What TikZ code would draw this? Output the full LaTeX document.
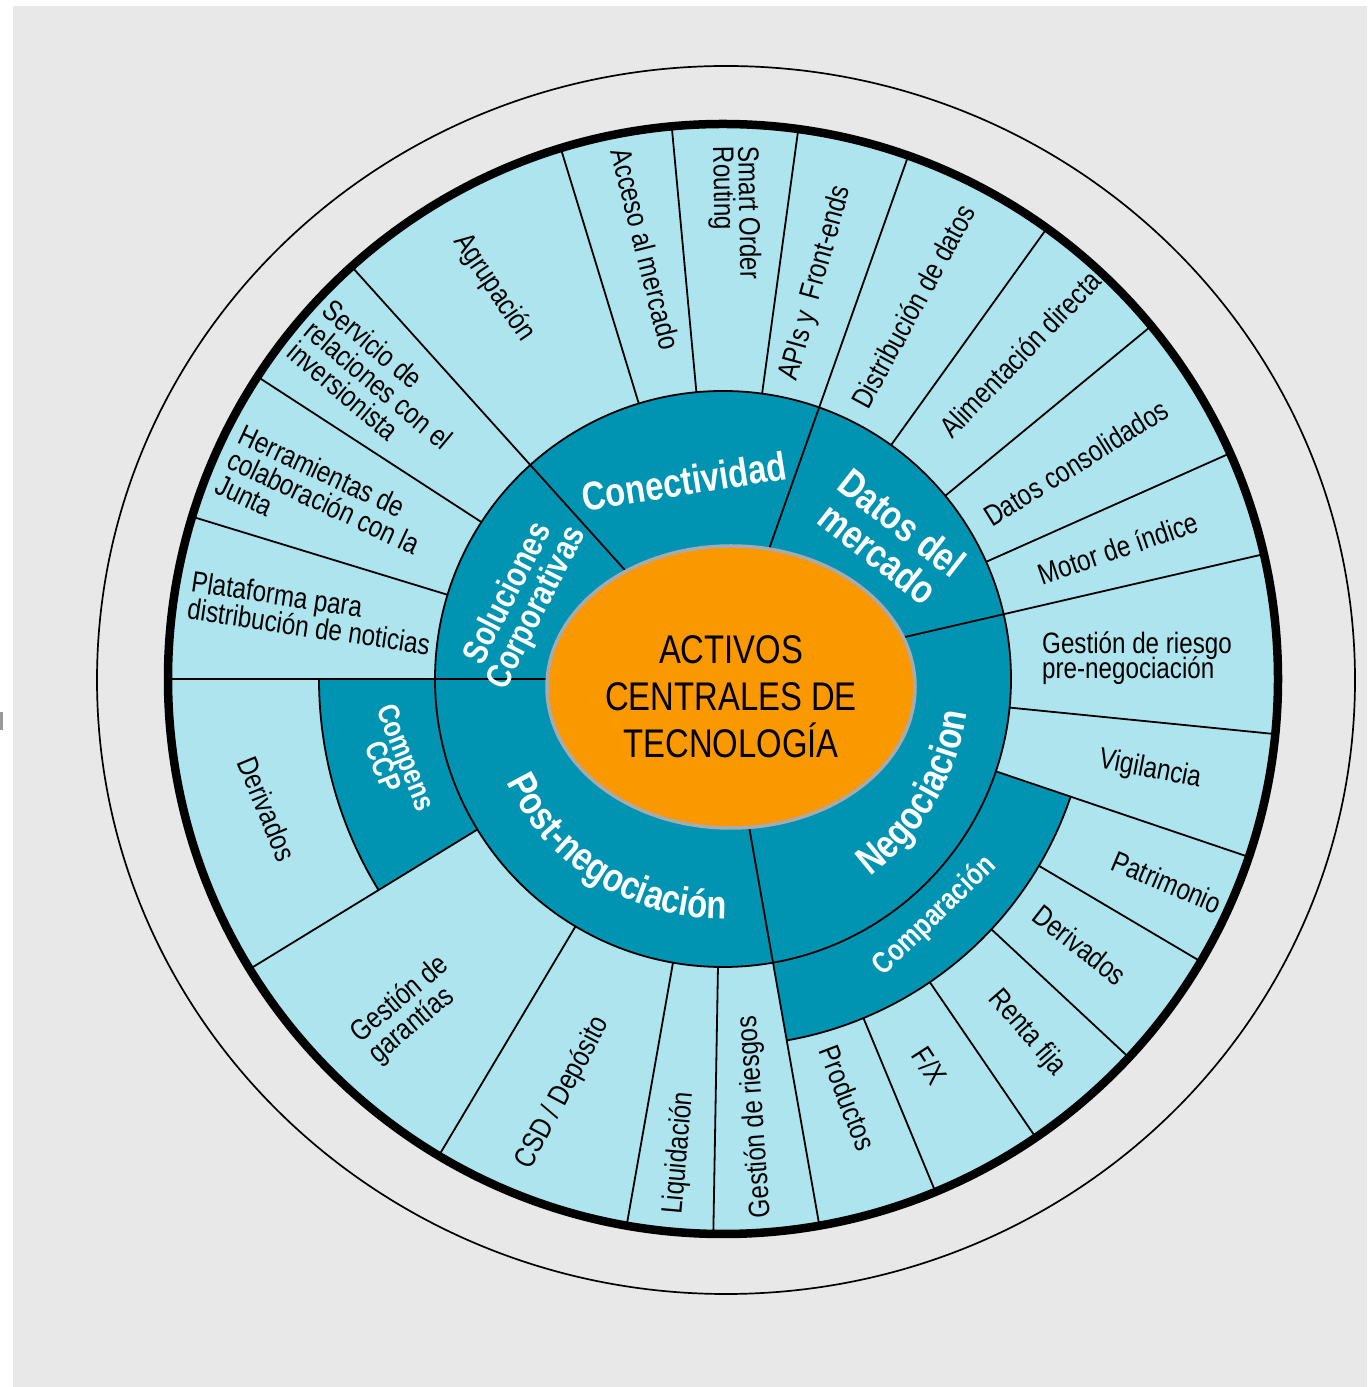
\documentclass[tikz,border=0pt]{standalone}
\usepackage{fontspec}
\setmainfont{Liberation Sans}
\newfontfamily\nf[FakeStretch=0.82]{Liberation Sans}
\usetikzlibrary{decorations.text}
\definecolor{cbg}{RGB}{232,232,232}
\definecolor{clight}{RGB}{173,228,238}
\definecolor{cdark}{RGB}{0,148,178}
\definecolor{corange}{RGB}{250,152,0}
\definecolor{cellip}{RGB}{168,170,175}
\lineskiplimit=-100pt
\newcommand\annsec[5]{\fill[#1] (#2:#4pt) arc[start angle=#2,end angle=#3,radius=#4pt] -- (#3:#5pt) arc[start angle=#3,end angle=#2,radius=#5pt] -- cycle;}
\newcommand\radline[3]{\draw[thinline] (#1:#2pt) -- (#1:#3pt);}
\begin{document}
\begin{tikzpicture}[x=1pt,y=1pt,
  thinline/.style={black,line width=1.8pt},
  cell/.style={font=\nf\fontsize{29.5}{25}\selectfont,inner sep=0pt,text=black},
  cellwide/.style={font=\nf\fontsize{29.5}{27.5}\selectfont,inner sep=0pt,text=black},
  seg/.style={font=\nf\bfseries\fontsize{40}{39}\selectfont,inner sep=0pt,text=white},
  subseg/.style={font=\nf\bfseries\fontsize{30}{25}\selectfont,inner sep=0pt,text=white},
]
\useasboundingbox (0,0) rectangle (1372,1387);
\fill[white] (0,0) rectangle (1372,1387);
\fill[cbg] (13,0) rectangle (1367,1381);
\fill[black!40] (0,657) rectangle (3,675);
\begin{scope}[shift={(723,708)}]
  % outer thin ellipse
  \draw[black,line width=1.7pt] (3,-1) ellipse[x radius=629pt,y radius=614pt];
  % disks
  \fill[clight] (0,0) circle[radius=555pt];
  \fill[cdark] (0,0) circle[radius=288pt];
  \annsec{cdark}{180}{211.5}{288}{404}
  \annsec{cdark}{280}{341.3}{288}{367}
  % main radial lines
  \radline{132}{0}{555}
  \radline{70.5}{0}{555}
  \radline{13}{0}{555}
  \radline{280}{0}{555}
  \radline{180}{0}{555}
  % sub lines
  \foreach \a in {163,147,107,95.3,82.2,54.3,39.5,24,-5.7,-18.7,269,260,239.2,211.5}{\radline{\a}{288}{555}}
  \foreach \a in {-30.6,-43,-55.7,-67.5}{\radline{\a}{367}{555}}
  % arcs
  \draw[thinline] (0,0) circle[radius=288pt];
  \draw[thinline] (180:404pt) arc[start angle=180,end angle=211.5,radius=404pt];
  \draw[thinline] (280:367pt) arc[start angle=280,end angle=341.3,radius=367pt];
  % thick circle
  \draw[black,line width=8.5pt] (0,0) circle[radius=555pt];
  % center ellipse
  \filldraw[fill=corange,draw=cellip,line width=3.5pt] (8,-8) ellipse[x radius=184pt,y radius=141pt];
  \node[font=\nf\fontsize{40}{47}\selectfont,align=center,text=black] (core) at (8,-17.5) {ACTIVOS\\CENTRALES DE\\TECNOLOGÍA};
  % segment labels
  \node[seg,rotate=9] (conect) at (-39,198) {Conectividad};
  \node[seg,rotate=-38,align=center] (datos) at (167,141) {Datos del\\mercado};
  \node[seg,font=\nf\bfseries\fontsize{35}{32}\selectfont,rotate=63,align=center] (soluc) at (-200,78) {Soluciones\\Corporativas};
  \node[subseg,rotate=-68,align=center] (compens) at (-328,-83) {Compens\\CCP};
  \node[subseg,rotate=44] (compar) at (212,-237) {Comparación};
  \path[decorate,decoration={text along path,text align=center,
    text={|\nf\bfseries\fontsize{40}{40}\selectfont\color{white}|Post-negociación}}]
    (178.2:240pt) arc[start angle=178.2,end angle=298.2,radius=240pt];
  \path[decorate,decoration={text along path,text align=center,
    text={|\nf\bfseries\fontsize{40}{40}\selectfont\color{white}|Negociacion}}]
    (-80.6:246pt) arc[start angle=-80.6,end angle=19.4,radius=246pt];
  % cell labels
  \node[cellwide,rotate=-8.5,align=left] (plat) at (-412,66) {Plataforma para\\distribución de noticias};
  \node[cellwide,rotate=-25,align=left] (herr) at (-399,177) {Herramientas de\\colaboración con la\\Junta};
  \node[cellwide,rotate=-40,align=left] (serv) at (-344,294) {Servicio de\\relaciones con el\\inversionista};
  \node[cell,rotate=-56] (agr) at (-229,391) {Agrupación};
  \node[cell,rotate=-76] (acc) at (-77,430) {Acceso al mercado};
  \node[cell,rotate=-89,align=left] (smart) at (11.5,466) {Smart Order\\Routing};
  \node[cell,rotate=74.6] (apis) at (93,396) {APIs y\ \ Front-ends};
  \node[cell,rotate=61.5] (distr) at (190,373) {Distribución de datos};
  \node[cell,rotate=46] (alim) at (297,325) {Alimentación directa};
  \node[cell,rotate=32] (dcons) at (353,216) {Datos consolidados};
  \node[cell,rotate=19] (motor) at (395,131) {Motor de índice};
  \node[cell,align=left,anchor=west] (gpre) at (319,21) {Gestión de riesgo\\pre-negociación};
  \node[cell,rotate=-11] (vig) at (427,-91) {Vigilancia};
  \node[cell,rotate=-23] (patr) at (444,-203) {Patrimonio};
  \node[cell,rotate=-38] (derr) at (357,-266) {Derivados};
  \node[cell,rotate=-49] (renta) at (304,-354) {Renta fija};
  \node[cell,rotate=-57] (fx) at (207,-387) {F/X};
  \node[cell,rotate=-69] (prod) at (125,-419) {Productos};
  \node[cell,rotate=94] (griesg) at (32,-438) {Gestión de riesgos};
  \node[cell,rotate=85] (liq) at (-44,-474) {Liquidación};
  \node[cell,rotate=62] (csd) at (-160,-414) {CSD / Depósito};
  \node[cellwide,rotate=40,align=left] (garan) at (-314,-331) {Gestión de\\garantías};
  \node[cell,rotate=-67.5] (derl) at (-456,-130) {Derivados};
\end{scope}
\end{tikzpicture}
\end{document}
